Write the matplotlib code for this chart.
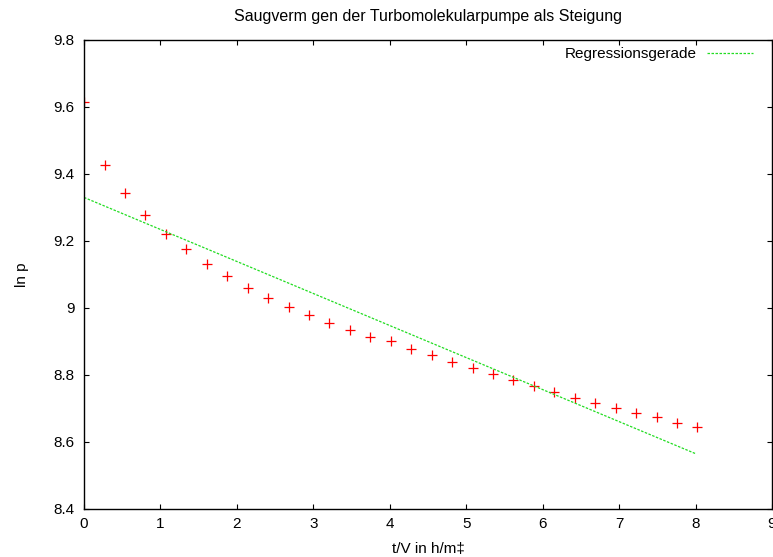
import matplotlib
matplotlib.use("Agg")
import matplotlib.pyplot as plt
import numpy as np

# measured points (ln p over t/V)
x_vals = [0.0, 0.268, 0.535, 0.803, 1.070, 1.338, 1.605, 1.873, 2.140, 2.408,
          2.675, 2.943, 3.210, 3.478, 3.745, 4.013, 4.280, 4.548, 4.815, 5.083,
          5.350, 5.618, 5.885, 6.153, 6.420, 6.688, 6.955, 7.223, 7.490, 7.758, 8.025]
ln_p = [9.615, 9.427, 9.342, 9.279, 9.221, 9.175, 9.131, 9.096, 9.061, 9.030,
        9.003, 8.979, 8.955, 8.934, 8.913, 8.901, 8.879, 8.860, 8.838, 8.821,
        8.804, 8.785, 8.767, 8.748, 8.731, 8.717, 8.701, 8.686, 8.674, 8.656, 8.644]

# regression line parameters
fit_a = 9.330
fit_b = -0.0956
fit_x = [0.0, 8.0]

x_ticks = [0, 1, 2, 3, 4, 5, 6, 7, 8, 9]
y_ticks = [8.4, 8.6, 8.8, 9.0, 9.2, 9.4, 9.6, 9.8]
y_labels = ["8.4", "8.6", "8.8", "9", "9.2", "9.4", "9.6", "9.8"]

plt.rcParams['font.family'] = ['Liberation Sans', 'DejaVu Sans']
plt.rcParams['font.size'] = 11

fig = plt.figure(figsize=(7.73, 5.57), dpi=100)
ax = fig.add_axes([0.1087, 0.0862, 0.8900, 0.8420])

ax.plot(x_vals, ln_p, linestyle='none', marker='+', color='red',
        markersize=6.5, markeredgewidth=0.9)
fx = np.array(fit_x)
ax.plot(fx, fit_a + fit_b * fx, color='#22dd22', linestyle=(0, (2.0, 1.2)),
        linewidth=0.9, label='Regressionsgerade')

ax.set_xlim(0, 9)
ax.set_ylim(8.4, 9.8)
ax.set_xticks(x_ticks)
ax.set_xticklabels([str(t) for t in x_ticks])
ax.set_yticks(y_ticks)
ax.set_yticklabels(y_labels)
ax.tick_params(direction='in', length=3.5, width=0.8, top=True, right=True,
               labelsize=11)
ax.tick_params(axis='y', pad=7)
ax.tick_params(axis='x', pad=6)
for s in ax.spines.values():
    s.set_linewidth(1.0)

fig.text(0.554, 0.971, 'Saugverm gen der Turbomolekularpumpe als Steigung',
         ha='center', va='center', fontsize=11.5)
ax.set_xlabel('t/V in h/m\u2021', fontsize=11)
ax.xaxis.set_label_coords(0.5, -0.085)
ax.xaxis.label.set_va('center')
ax.set_ylabel('ln p', fontsize=11)
ax.yaxis.set_label_coords(-0.09, 0.5)
ax.yaxis.label.set_va('center')

ax.legend(loc='upper right', frameon=False, markerfirst=False, handlelength=3.0,
          handletextpad=0.7, fontsize=11, borderaxespad=0, borderpad=0,
          bbox_to_anchor=(0.9724, 0.985))

fig.savefig('out.png', dpi=100)
